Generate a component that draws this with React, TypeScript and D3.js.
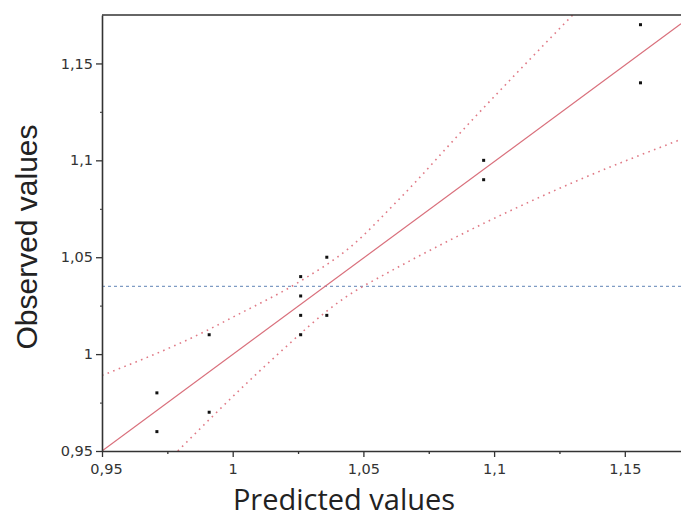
import React, { useEffect, useRef } from 'react';
import * as d3 from 'd3';

// observed vs predicted values
const predicted = [0.971, 0.971, 0.991, 0.991, 1.026, 1.026, 1.026, 1.026, 1.036, 1.036, 1.096, 1.096, 1.156, 1.156];
const observed = [0.98, 0.96, 1.01, 0.97, 1.04, 1.03, 1.02, 1.01, 1.05, 1.02, 1.1, 1.09, 1.17, 1.14];

// fitted line and confidence band
const fitLine: [number, number][] = [[0.95, 0.95], [1.1715, 1.1705]];
const upperBand: [number, number][] = [
  [0.95, 0.989], [0.9894, 1.0117], [1.0001, 1.0191], [1.0257, 1.0375], [1.0448, 1.055],
  [1.0632, 1.0793], [1.0918, 1.1211], [1.1305, 1.1756],
];
const lowerBand: [number, number][] = [
  [0.979, 0.95], [1.0085, 0.989], [1.0149, 0.997], [1.0428, 1.029], [1.06, 1.0425],
  [1.0676, 1.048], [1.1299, 1.0884], [1.1715, 1.1108],
];
const meanObserved = 1.035;

const majorTicks = [0.95, 1, 1.05, 1.1, 1.15];
const minorTicks = [0.975, 1.025, 1.075, 1.125];

const xDomain = [0.95, 1.1715];
const yDomain = [0.95, 1.175];

const width = 681;
const height = 518;
const margin = { top: 15, right: 0, bottom: 67, left: 102 };

const locale = d3.formatLocale({ decimal: ',', thousands: '.', grouping: [3], currency: ['', ''] });
const fmt = locale.format('.2~f');

export default function App() {
  const svgRef = useRef<SVGSVGElement>(null);

  useEffect(() => {
    if (!svgRef.current) return;
    const root = d3.select(svgRef.current);
    root.selectAll('*').remove();

    const x = d3.scaleLinear().domain(xDomain).range([margin.left, width - margin.right]);
    const y = d3.scaleLinear().domain(yDomain).range([height - margin.bottom, margin.top]);

    const plot = root.append('g');
    const clipId = 'plot-clip';
    root.append('defs').append('clipPath').attr('id', clipId)
      .append('rect')
      .attr('x', margin.left).attr('y', margin.top)
      .attr('width', width - margin.left - margin.right)
      .attr('height', height - margin.top - margin.bottom);
    plot.attr('clip-path', `url(#${clipId})`);

    const line = d3.line<[number, number]>().x(d => x(d[0])).y(d => y(d[1]));
    const curve = d3.line<[number, number]>().x(d => x(d[0])).y(d => y(d[1])).curve(d3.curveMonotoneX);

    // mean line
    plot.append('line')
      .attr('x1', x(xDomain[0])).attr('x2', x(xDomain[1]))
      .attr('y1', y(meanObserved)).attr('y2', y(meanObserved))
      .attr('stroke', '#7f9cc4').attr('stroke-width', 1.2)
      .attr('stroke-dasharray', '3,3');

    // confidence band
    [upperBand, lowerBand].forEach(band => {
      plot.append('path')
        .attr('d', curve(band))
        .attr('fill', 'none')
        .attr('stroke', '#e07a86')
        .attr('stroke-width', 1.6)
        .attr('stroke-dasharray', '1.6,4.4');
    });

    // fitted line
    plot.append('path')
      .attr('d', line(fitLine))
      .attr('fill', 'none')
      .attr('stroke', '#d9707c')
      .attr('stroke-width', 1.2);

    // points
    plot.selectAll('rect.pt')
      .data(predicted.map((p, i) => [p, observed[i]] as [number, number]))
      .enter()
      .append('rect')
      .attr('class', 'pt')
      .attr('x', d => x(d[0]) - 1.5)
      .attr('y', d => y(d[1]) - 1.5)
      .attr('width', 3)
      .attr('height', 3)
      .attr('fill', '#111');

    // frame top
    root.append('line')
      .attr('x1', margin.left).attr('x2', width)
      .attr('y1', margin.top).attr('y2', margin.top)
      .attr('stroke', '#333').attr('stroke-width', 1.5);

    const tickFont = (g: d3.Selection<SVGGElement, unknown, null, undefined>) => {
      g.selectAll('text')
        .style('font-family', '"DejaVu Sans", sans-serif')
        .style('font-size', '14.5px')
        .attr('fill', '#333');
      g.selectAll('line').attr('stroke', '#333').attr('stroke-width', 1.3);
      g.select('.domain').attr('stroke', '#333').attr('stroke-width', 1.6);
    };

    // x axis
    const xAxisG = root.append('g')
      .attr('transform', `translate(0,${height - margin.bottom})`)
      .call(d3.axisBottom(x).tickValues(majorTicks).tickFormat(d => fmt(d as number)).tickSize(6).tickSizeOuter(0).tickPadding(7));
    tickFont(xAxisG);
    xAxisG.selectAll('.tick').filter((d: any) => d === 0.95).select('text').attr('dx', 4);
    root.append('g')
      .attr('transform', `translate(0,${height - margin.bottom})`)
      .call(d3.axisBottom(x).tickValues(minorTicks).tickFormat(() => '').tickSize(3).tickSizeOuter(0))
      .call(g => g.select('.domain').remove())
      .selectAll('line').attr('stroke', '#333').attr('stroke-width', 1.3);

    // y axis
    const yAxisG = root.append('g')
      .attr('transform', `translate(${margin.left},0)`)
      .call(d3.axisLeft(y).tickValues(majorTicks).tickFormat(d => fmt(d as number)).tickSize(6).tickSizeOuter(0).tickPadding(3));
    tickFont(yAxisG);
    root.append('g')
      .attr('transform', `translate(${margin.left},0)`)
      .call(d3.axisLeft(y).tickValues(minorTicks).tickFormat(() => '').tickSize(2).tickSizeOuter(0))
      .call(g => g.select('.domain').remove())
      .selectAll('line').attr('stroke', '#555').attr('stroke-width', 1.3);

    // axis titles
    root.append('text')
      .attr('x', 344)
      .attr('y', 510)
      .attr('text-anchor', 'middle')
      .style('font-family', '"Open Sans", sans-serif')
      .style('font-size', '29px')
      .attr('fill', '#222')
      .text('Predicted values');

    root.append('text')
      .attr('transform', `translate(37,237) rotate(-90)`)
      .attr('text-anchor', 'middle')
      .style('font-family', '"Liberation Sans", Arial, sans-serif')
      .style('font-size', '30px')
      .attr('fill', '#222')
      .text('Observed values');
  }, []);

  return (
    <svg
      ref={svgRef}
      width={width}
      height={height}
      style={{ position: 'absolute', left: 0, top: 0, background: '#fff' }}
    />
  );
}
